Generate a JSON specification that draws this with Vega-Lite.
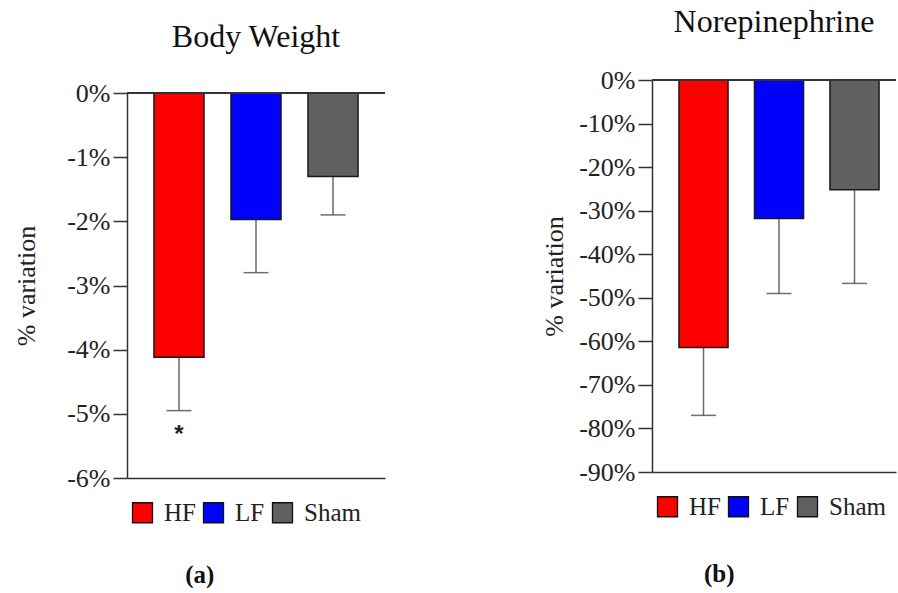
{
  "$schema": "https://vega.github.io/schema/vega-lite/v6.json",
  "background": "white",
  "padding": {"left": 13, "top": 6, "right": 0, "bottom": 0},
  "config": {
    "view": {"stroke": null},
    "font": "Liberation Serif",
    "style": {"guide-label": {"font": "Liberation Serif"}, "guide-title": {"font": "Liberation Serif"}},
    "axis": {"domainColor": "#333", "domainWidth": 1.5, "tickColor": "#333", "tickWidth": 1.5, "tickSize": 14, "labelFont": "Liberation Serif", "labelFontSize": 26, "labelColor": "#222", "labelPadding": 3, "titleFont": "Liberation Serif", "titleFontSize": 26, "titleFontWeight": "normal", "titleColor": "#222", "grid": false},
    "legend": {"orient": "bottom", "direction": "horizontal", "title": null, "symbolType": "square", "symbolSize": 400, "symbolStrokeColor": "#111", "symbolStrokeWidth": 1.3, "symbolOpacity": 1, "labelFont": "Liberation Serif", "labelFontSize": 25, "labelColor": "#222", "labelOffset": 9, "columnPadding": 4, "padding": 3, "offset": 19},
    "title": {"font": "Liberation Serif", "fontSize": 32, "fontWeight": "normal", "color": "#111"}
  },
  "spacing": 155,
  "resolve": {"scale": {"color": "independent", "y": "independent", "x": "independent"}, "legend": {"color": "independent"}},
  "hconcat": [
    {
      "title": {"text": "(a)", "orient": "bottom", "fontSize": 25, "fontWeight": "bold", "offset": 34, "anchor": "middle"},
      "resolve": {"legend": {"color": "independent"}},
      "spacing": -6,
      "vconcat": [
        {
          "title": {"text": "Body Weight", "offset": 21},
          "width": 258,
          "height": 1,
          "data": {"values": [{}]},
          "mark": {"type": "text", "text": ""},
          "encoding": {}
        },
        {
          "width": 258,
          "height": 385,
          "data": {"values": [
            {"group": "HF", "value": -4.12, "err": -4.95, "star": "*"},
            {"group": "LF", "value": -1.97, "err": -2.80, "star": ""},
            {"group": "Sham", "value": -1.30, "err": -1.90, "star": ""}
          ]},
          "layer": [
            {
              "mark": {"type": "rule", "color": "#6a6a6a", "strokeWidth": 1.5},
              "encoding": {
                "x": {"field": "group", "type": "nominal", "scale": {"paddingInner": 0.35, "paddingOuter": 0.35}, "axis": {"labels": false, "ticks": false, "title": null}},
                "y": {"field": "value", "type": "quantitative", "scale": {"domain": [-6, 0], "nice": false}, "axis": {"values": [0, -1, -2, -3, -4, -5, -6], "labelExpr": "datum.value + '%'", "labelFont": "Liberation Serif", "titleFont": "Liberation Serif", "title": "% variation", "titlePadding": 27}},
                "y2": {"field": "err"}
              }
            },
            {
              "mark": {"type": "tick", "color": "#333", "thickness": 1.5, "size": 25},
              "encoding": {
                "x": {"field": "group", "type": "nominal"},
                "y": {"field": "err", "type": "quantitative"}
              }
            },
            {
              "mark": {"type": "bar", "stroke": "#1a1a1a", "strokeWidth": 1.5},
              "encoding": {
                "x": {"field": "group", "type": "nominal"},
                "y": {"field": "value", "type": "quantitative"},
                "color": {"field": "group", "type": "nominal", "scale": {"domain": ["HF", "LF", "Sham"], "range": ["#ff0000", "#0000ff", "#606060"]}}
              }
            },
            {
              "mark": {"type": "rule", "color": "#333", "strokeWidth": 1.5},
              "encoding": {"y": {"datum": 0}}
            },
            {
              "mark": {"type": "text", "font": "Liberation Sans", "fontSize": 24, "fontWeight": "bold", "baseline": "top", "dy": 12, "color": "#222"},
              "encoding": {
                "x": {"field": "group", "type": "nominal"},
                "y": {"field": "err", "type": "quantitative"},
                "text": {"field": "star"}
              }
            }
          ]
        }
      ]
    },
    {
      "title": {"text": "(b)", "orient": "bottom", "fontSize": 25, "fontWeight": "bold", "offset": 39, "anchor": "middle"},
      "resolve": {"legend": {"color": "independent"}},
      "vconcat": [
        {
          "title": {"text": "Norepinephrine", "offset": 28},
          "width": 244,
          "height": 392,
          "data": {"values": [
            {"group": "HF", "value": -61.4, "err": -77.0},
            {"group": "LF", "value": -31.8, "err": -49.0},
            {"group": "Sham", "value": -25.2, "err": -46.7}
          ]},
          "layer": [
            {
              "mark": {"type": "rule", "color": "#6a6a6a", "strokeWidth": 1.5},
              "encoding": {
                "x": {"field": "group", "type": "nominal", "scale": {"paddingInner": 0.35, "paddingOuter": 0.291, "align": 0.614}, "axis": {"labels": false, "ticks": false, "title": null}},
                "y": {"field": "value", "type": "quantitative", "scale": {"domain": [-90, 0], "nice": false}, "axis": {"values": [0, -10, -20, -30, -40, -50, -60, -70, -80, -90], "labelExpr": "datum.value + '%'", "labelFont": "Liberation Serif", "titleFont": "Liberation Serif", "title": "% variation", "titlePadding": 11}},
                "y2": {"field": "err"}
              }
            },
            {
              "mark": {"type": "tick", "color": "#333", "thickness": 1.5, "size": 25},
              "encoding": {
                "x": {"field": "group", "type": "nominal"},
                "y": {"field": "err", "type": "quantitative"}
              }
            },
            {
              "mark": {"type": "bar", "stroke": "#1a1a1a", "strokeWidth": 1.5},
              "encoding": {
                "x": {"field": "group", "type": "nominal"},
                "y": {"field": "value", "type": "quantitative"},
                "color": {"field": "group", "type": "nominal", "scale": {"domain": ["HF", "LF", "Sham"], "range": ["#ff0000", "#0000ff", "#606060"]}}
              }
            },
            {
              "mark": {"type": "rule", "color": "#333", "strokeWidth": 1.5},
              "encoding": {"y": {"datum": 0}}
            }
          ]
        }
      ]
    }
  ]
}
